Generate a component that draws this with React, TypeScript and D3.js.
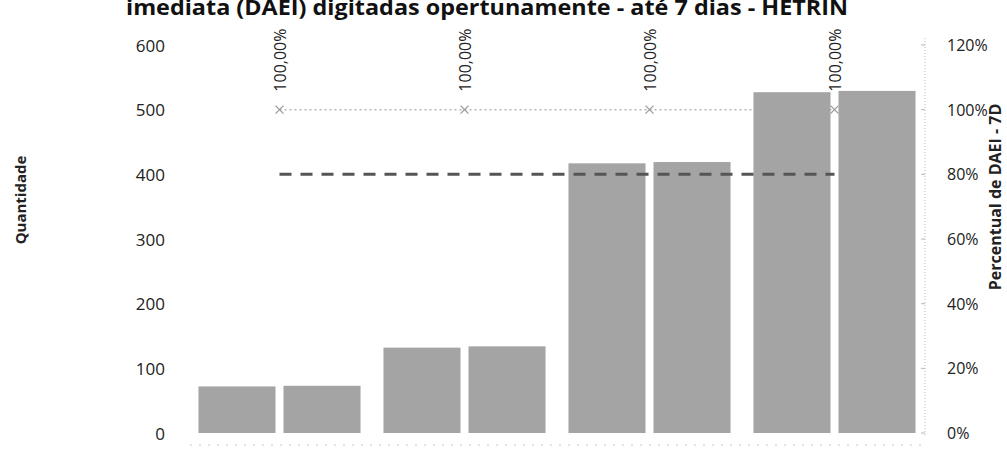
import React from 'react';
import * as d3 from 'd3';

const categories = ['Período 1', 'Período 2', 'Período 3', 'Período 4'];
const seriesKeys = ['DAEI', 'DAEI - 7D'];
const seriesTotal = [72, 132, 417, 527];
const seriesDigitadas = [73, 134, 419, 529];
const percentual = [1.0, 1.0, 1.0, 1.0];
const meta = [0.8, 0.8, 0.8, 0.8];
const pctLabels = ['100,00%', '100,00%', '100,00%', '100,00%'];
const leftTicks = [0, 100, 200, 300, 400, 500, 600];
const rightTicks = [0, 0.2, 0.4, 0.6, 0.8, 1.0, 1.2];
const titleText = 'imediata (DAEI) digitadas opertunamente - até 7 dias - HETRIN';

const FONT = '"Open Sans", "Noto Sans", sans-serif';

export default function App() {
  const W = 1007;
  const H = 449;
  const x = d3.scaleBand<string>().domain(categories).range([187, 927]).paddingInner(0.124).paddingOuter(0.062);
  const xi = d3.scaleBand<string>().domain(seriesKeys).range([0, x.bandwidth()]).paddingInner(0.094);
  const yL = d3.scaleLinear().domain([0, 600]).range([433, 45]);
  const yR = d3.scaleLinear().domain([0, 1.2]).range([433, 45]);
  const cx = (c: string) => (x(c) as number) + x.bandwidth() / 2;

  const line = d3.line<number>().x((_, i) => cx(categories[i])).y((d) => yR(d));

  return (
    <svg width={W} height={H} style={{ position: 'absolute', left: 0, top: 0, background: '#fff' }} fontFamily={FONT}>
      <rect x={0} y={0} width={W} height={H} fill="#fff" />
      {/* title (clipped at top) */}
      <text x={487} y={15} textAnchor="middle" fontSize={21} fontWeight="bold" fill="#111" textLength={722} lengthAdjust="spacingAndGlyphs">
        {titleText}
      </text>

      {/* faint x baseline dots */}
      <line x1={190} x2={925} y1={445} y2={445} stroke="#c8c8c8" strokeWidth={1} strokeDasharray="2,7" />

      {/* percent line (behind bars) */}
      <path d={line(percentual) || ''} fill="none" stroke="#b5b5b5" strokeWidth={1.5} strokeDasharray="2,3" />
      {percentual.map((v, i) => {
        const px = cx(categories[i]);
        const py = yR(v);
        return (
          <g key={'m' + i} stroke="#9a9a9a" strokeWidth={1.2}>
            <line x1={px - 4} x2={px + 4} y1={py - 4} y2={py + 4} />
            <line x1={px - 4} x2={px + 4} y1={py + 4} y2={py - 4} />
          </g>
        );
      })}

      {/* bars */}
      {categories.map((c, i) => (
        <g key={'b' + i} transform={`translate(${x(c)},0)`}>
          {[seriesTotal[i], seriesDigitadas[i]].map((v, j) => (
            <rect
              key={j}
              x={xi(seriesKeys[j])}
              y={yL(v)}
              width={xi.bandwidth()}
              height={yL(0) - yL(v)}
              fill="#a4a4a4"
            />
          ))}
        </g>
      ))}

      {/* meta dashed line */}
      <path d={line(meta) || ''} fill="none" stroke="#555" strokeWidth={3} strokeDasharray="12,9" />

      {/* percent labels */}
      {pctLabels.map((t, i) => {
        const px = cx(categories[i]);
        const py = yR(percentual[i]) - 18;
        return (
          <text key={'l' + i} transform={`translate(${px},${py}) rotate(-90)`} fontSize={16} fill="#222" dominantBaseline="central">
            {t}
          </text>
        );
      })}

      {/* left axis labels */}
      {leftTicks.map((t) => (
        <text key={'lt' + t} x={165} y={yL(t)} textAnchor="end" dominantBaseline="central" fontSize={17} fill="#222">
          {t}
        </text>
      ))}
      <text transform={`translate(20,200) rotate(-90)`} textAnchor="middle" dominantBaseline="central" fontSize={15} fontWeight="bold" fill="#222">
        Quantidade
      </text>

      {/* right axis */}
      <line x1={925} x2={925} y1={38} y2={436} stroke="#b8b8b8" strokeWidth={1} strokeDasharray="1,2" />
      {rightTicks.map((t) => (
        <g key={'rt' + t}>
          <line x1={921} x2={925} y1={yR(t)} y2={yR(t)} stroke="#b8b8b8" />
          <text x={947} y={yR(t)} dominantBaseline="central" fontSize={16} fill="#222">
            {d3.format('.0%')(t)}
          </text>
        </g>
      ))}
      <text transform={`translate(995,197) rotate(-90)`} textAnchor="middle" dominantBaseline="central" fontSize={16} fontWeight="bold" fill="#222">
        Percentual de DAEI - 7D
      </text>
    </svg>
  );
}
